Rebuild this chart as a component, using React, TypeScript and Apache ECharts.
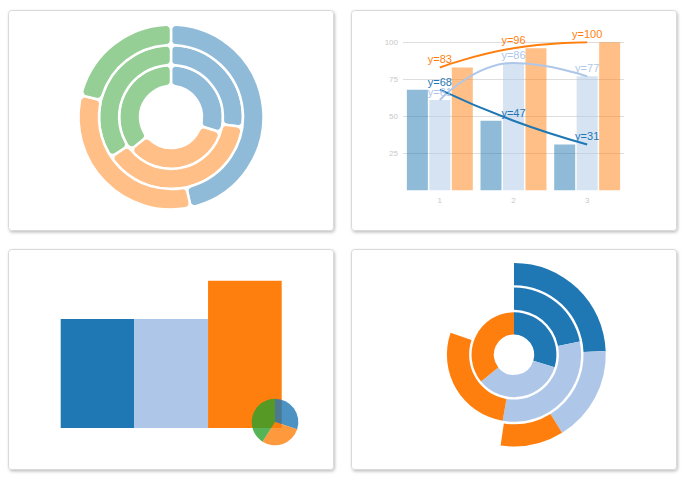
import React, { useEffect, useRef } from "react";
import * as echarts from "echarts";

// ---- data ----
const categories = ["1", "2", "3"];
const seriesA = [68, 47, 31]; // dark blue
const seriesB = [61, 86, 77]; // light blue
const seriesC = [83, 96, 100]; // orange
const yTicks = [0, 25, 50, 75, 100];
const blockValues = [74, 74, 100];
const smallPieValues = [30, 29, 41];

const BLUE = "#1f77b4";
const LIGHT = "#aec7e8";
const ORANGE = "#ff7f0e";
const GREEN = "#2ca02c";
const FONT = "Liberation Sans, Arial, sans-serif";

export default function App() {
  const ref = useRef<HTMLDivElement>(null);
  useEffect(() => {
    if (!ref.current) return;
    const chart = echarts.init(ref.current, undefined, { renderer: "svg" });

    const pastel = ["#8fbbd9", "#ffbf86", "#95cf95"];
    const ringItem = (vals: number[]) =>
      vals.map((v, i) => ({ value: v, itemStyle: { color: pastel[i] } }));
    const ringBase = {
      type: "pie",
      center: [171, 117],
      startAngle: 90,
      silent: true,
      label: { show: false },
      labelLine: { show: false },
      itemStyle: { borderColor: "#fff", borderWidth: 2.5, borderRadius: 5 },
    };

    const panel = (x: number, y: number) => ({
      type: "rect",
      z: 0,
      shape: { x, y, width: 325, height: 220, r: 3 },
      style: {
        fill: "#fff",
        stroke: "#d9d9d9",
        lineWidth: 1,
        shadowBlur: 3,
        shadowOffsetX: 1,
        shadowOffsetY: 1.5,
        shadowColor: "rgba(0,0,0,0.25)",
      },
    });

    const ringTotal = Math.max(
      ...[seriesA, seriesB, seriesC].map((s) => s.reduce((a, b) => a + b, 0))
    );

    const lineSeries = (data: number[], color: string) => ({
      type: "line",
      xAxisIndex: 0,
      yAxisIndex: 0,
      data,
      smooth: 0.5,
      symbol: "circle",
      symbolSize: 2,
      z: 5,
      itemStyle: { color: "rgba(0,0,0,0)" },
      lineStyle: { color, width: 2 },
      label: {
        show: true,
        position: "top",
        distance: 1.5,
        formatter: "y={c}",
        color,
        fontSize: 11,
        fontFamily: FONT,
      },
    });

    const barSeries = (data: number[], color: string) => ({
      type: "bar",
      xAxisIndex: 0,
      yAxisIndex: 0,
      data,
      barWidth: 21,
      barGap: "7%",
      itemStyle: { color, opacity: 0.5 },
    });

    chart.setOption({
      animation: false,
      graphic: [panel(8.5, 10.5), panel(351.5, 10.5), panel(8.5, 249.5), panel(351.5, 249.5)],
      grid: [
        { left: 403, width: 221, top: 42.3, height: 148 },
        { left: 60.7, width: 221, top: 280.7, height: 147.3 },
      ],
      xAxis: [
        {
          type: "category",
          gridIndex: 0,
          data: categories,
          axisLine: { show: false },
          axisTick: { show: false },
          axisLabel: { color: "#c8c8c8", fontSize: 8, margin: 6, fontFamily: FONT },
        },
        { type: "category", gridIndex: 1, data: categories, show: false },
      ],
      yAxis: [
        {
          type: "value",
          gridIndex: 0,
          min: yTicks[0],
          max: yTicks[yTicks.length - 1],
          interval: 25,
          axisLine: { show: false },
          axisTick: { show: false },
          axisLabel: { color: "#c8c8c8", fontSize: 8, margin: 5, showMinLabel: false, fontFamily: FONT },
          splitLine: {
            lineStyle: {
              color: ["rgba(0,0,0,0)", "#dedede", "#dedede", "#dedede", "#dedede"],
              width: 1,
            },
          },
        },
        { type: "value", gridIndex: 1, min: 0, max: 100, show: false },
      ],
      polar: { center: [514, 354.7], radius: [19, 93] },
      angleAxis: { type: "value", max: ringTotal, startAngle: 90, show: false },
      radiusAxis: { type: "category", data: ["inner", "middle", "outer"], show: false },
      series: [
        // panel 1: nested rounded donut
        { ...ringBase, radius: [31, 51.9], data: ringItem(seriesC) },
        { ...ringBase, radius: [51.9, 72], data: ringItem(seriesB) },
        { ...ringBase, radius: [72, 92.5], data: ringItem(seriesA) },
        // panel 2: grouped bars + lines
        barSeries(seriesA, BLUE),
        barSeries(seriesB, LIGHT),
        barSeries(seriesC, ORANGE),
        lineSeries(seriesB, LIGHT),
        lineSeries(seriesA, BLUE),
        lineSeries(seriesC, ORANGE),
        // panel 3: blocks + small pie
        {
          type: "bar",
          xAxisIndex: 1,
          yAxisIndex: 1,
          barCategoryGap: "0%",
          silent: true,
          data: blockValues.map((v, i) => ({
            value: v,
            itemStyle: { color: [BLUE, LIGHT, ORANGE][i] },
          })),
        },
        {
          type: "pie",
          center: [275, 422],
          radius: 23.3,
          startAngle: 90,
          z: 6,
          silent: true,
          label: { show: false },
          labelLine: { show: false },
          data: smallPieValues.map((v, i) => ({
            value: v,
            itemStyle: { color: [BLUE, ORANGE, GREEN][i], opacity: 0.8 },
          })),
        },
        // panel 4: radial stacked bars
        ...[0, 1, 2].map((c) => ({
          type: "bar",
          coordinateSystem: "polar",
          stack: "ring",
          barCategoryGap: "10%",
          silent: true,
          itemStyle: { color: [BLUE, LIGHT, ORANGE][c] },
          data: [seriesC[c], seriesB[c], seriesA[c]],
        })),
      ],
    });

    return () => chart.dispose();
  }, []);

  return (
    <div
      ref={ref}
      style={{ position: "absolute", left: 0, top: 0, width: 687, height: 478 }}
    />
  );
}
